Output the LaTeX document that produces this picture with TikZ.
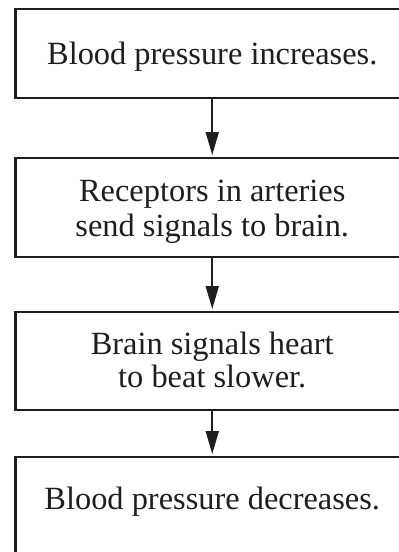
\documentclass[tikz,border=0pt]{standalone}
\usepackage{fontspec}
\setmainfont{Liberation Serif}
\usetikzlibrary{arrows.meta}
\definecolor{ink}{HTML}{1E1E1E}
\begin{document}
\begin{tikzpicture}[x=1pt,y=-1pt,
  flowbox/.style={draw=ink,line width=2.4pt,inner sep=0pt,outer sep=0pt,minimum width=393.5pt},
  txt/.style={anchor=base,inner sep=0pt,font=\fontsize{32.4pt}{35pt}\selectfont,text=ink},
  flowarrow/.style={draw=ink,line width=1.8pt,-{Triangle[length=23pt,width=13pt]},shorten >=3pt}]
\useasboundingbox (0,0) rectangle (399,552);
\clip (0,0) rectangle (399,552);
\fill[white] (0,0) rectangle (399,552);
\node[flowbox,minimum height=89pt] (b1) at (212.25,53.5) {};
\node[flowbox,minimum height=99pt] (b2) at (212.25,207.5) {};
\node[flowbox,minimum height=98pt] (b3) at (212.25,361) {};
\node[flowbox,minimum height=98pt] (b4) at (212.25,506) {};
\node[txt] (t1) at (212.25,64) {Blood pressure increases.};
\node[txt] (t2a) at (212.25,201.7) {Receptors in arteries};
\node[txt] (t2b) at (212.25,236.7) {send signals to brain.};
\node[txt] (t3a) at (212.25,354) {Brain signals heart};
\node[txt] (t3b) at (212.25,387.5) {to beat slower.};
\node[txt] (t4) at (212.25,509) {Blood pressure decreases.};
\draw[flowarrow] (b1.south) -- (b2.north);
\draw[flowarrow] (b2.south) -- (b3.north);
\draw[flowarrow] (b3.south) -- (b4.north);
\end{tikzpicture}
\end{document}
